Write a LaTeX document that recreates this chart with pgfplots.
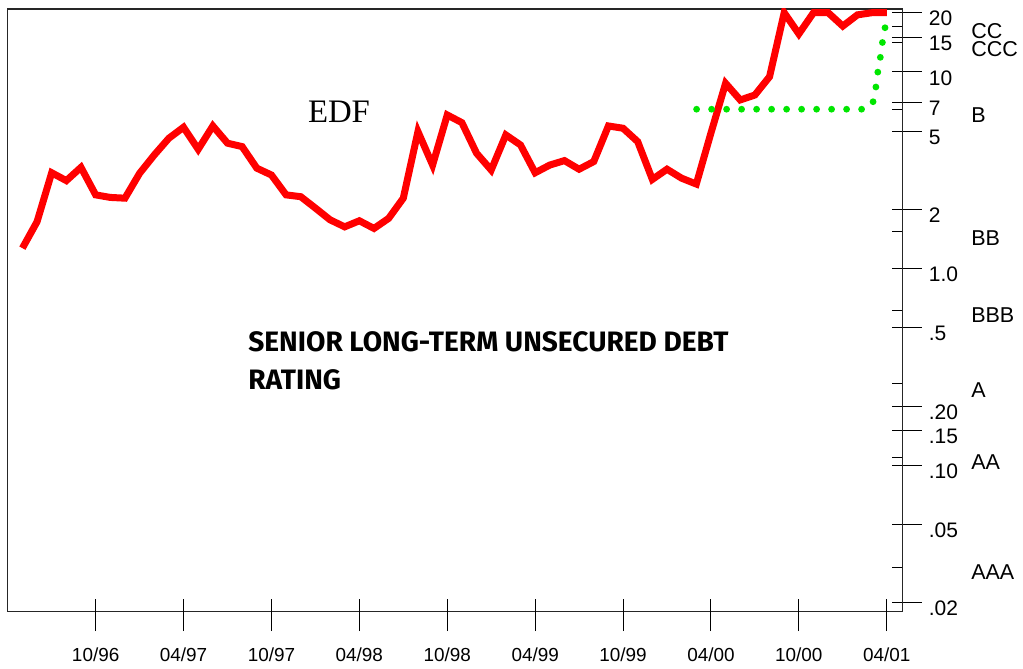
\documentclass[border=0pt]{standalone}
\usepackage{fontspec}
\setmainfont{Liberation Sans}
\newfontfamily\edffont{Liberation Serif}
\newfontfamily\boldsans{Fira Sans}
\usepackage{pgfplots}
\pgfplotsset{compat=1.18}
\definecolor{edfred}{RGB}{255,0,0}
\definecolor{ratgreen}{RGB}{0,230,0}
\tikzset{rat/.style={font=\fontsize{10.75}{12}\selectfont, anchor=west, inner sep=0pt, xshift=34.3pt},
  big/.style={anchor=base west, inner sep=0pt, font=\boldsans\bfseries\fontsize{14.05}{16}\selectfont}}

\begin{document}
\begin{tikzpicture}
\begin{axis}[
  scale only axis, width=447.5pt, height=301.35pt,
  ymode=log,
  xmin=-6.03, xmax=55.06, ymin=0.01802, ymax=20.89,
  clip mode=individual,
  axis line style={line width=0.75pt, black!85},
  every tick/.style={black, line width=0.5pt},
  yminorticks=false, xminorticks=false,
  xtick pos=left, ytick pos=right, yticklabel pos=right,
  tick align=outside,
  major tick length=9.75pt,
  xtick={0,6,...,54},
  xticklabels={10/96,04/97,10/97,04/98,10/98,04/99,10/99,04/00,10/00,04/01},
  x tick label style={font=\fontsize{9.45}{11}\selectfont, yshift=-5pt},
  ytick={0.02,0.05,0.1,0.15,0.2,0.5,1,2,5,7,10,15,20},
  yticklabels={.02,.05,.10,.15,.20,.5,1.0,2,5,7,10,15,20},
  y tick label style={font=\fontsize{10.5}{12}\selectfont, anchor=west, yshift=-3pt},
  extra x ticks={0,6,...,54},
  extra x tick labels={},
  extra x tick style={tick align=inside, major tick length=6.5pt},
  extra y ticks={0.02,0.0301,0.05,0.1,0.11,0.15,0.2,0.261,0.5,0.61,1,1.55,2,5,6.46,7,10,14.1,15,17,20},
  extra y tick labels={},
  extra y tick style={tick align=inside, major tick length=5pt},
]
\addplot[color=edfred, line width=3.5pt] coordinates {
(-5,1.27) (-4,1.73) (-3,3.07) (-2,2.80) (-1,3.27) (0,2.37) (1,2.30) (2,2.28)
(3,3.05) (4,3.78) (5,4.60) (6,5.23) (7,4.04) (8,5.31) (9,4.34) (10,4.17)
(11,3.24) (12,2.99) (13,2.37) (14,2.32) (15,2.03) (16,1.77) (17,1.63) (18,1.75)
(19,1.60) (20,1.80) (21,2.28) (22,4.97) (23,3.36) (24,6.04) (25,5.52) (26,3.86)
(27,3.17) (28,4.78) (29,4.25) (30,3.07) (31,3.36) (32,3.54) (33,3.20) (34,3.50)
(35,5.31) (36,5.17) (37,4.42) (38,2.84) (39,3.20) (40,2.88) (41,2.69) (42,4.89)
(43,8.75) (44,7.20) (45,7.63) (46,9.45) (47,20) (48,15.6) (49,20) (50,20)
(51,17.1) (52,19.5) (53,20) (54,20)
};
\addplot[color=ratgreen, line width=3.4pt, line cap=round, dash pattern=on 0pt off 7.5pt] coordinates {
(41.02,6.46) (52.6,6.46) (53.05,6.95) (53.26,8.38) (53.4,10.1) (53.6,12.3) (53.75,15.0) (53.96,17.9)
};
% rating scale
\node[rat] at (axis cs:55.06,16.2) {CC};
\node[rat] at (axis cs:55.06,13.1) {CCC};
\node[rat] at (axis cs:55.06,6.04) {B};
\node[rat] at (axis cs:55.06,1.43) {BB};
\node[rat] at (axis cs:55.06,0.581) {BBB};
\node[rat] at (axis cs:55.06,0.2416) {A};
\node[rat] at (axis cs:55.06,0.1043) {AA};
\node[rat] at (axis cs:55.06,0.02878) {AAA};
\node[anchor=center, font=\edffont\fontsize{16.4}{18}\selectfont] at (rel axis cs:0.3706,0.8299) {EDF};
\node[big] at (rel axis cs:0.2689,0.4309) {SENIOR LONG-TERM UNSECURED DEBT};
\node[big] at (rel axis cs:0.2689,0.3678) {RATING};
\coordinate (bl) at (rel axis cs:-0.00816,-0.0951);
\coordinate (tr) at (rel axis cs:1.1349,1.0149);
\end{axis}
\path (bl) rectangle (tr);
\end{tikzpicture}
\end{document}
